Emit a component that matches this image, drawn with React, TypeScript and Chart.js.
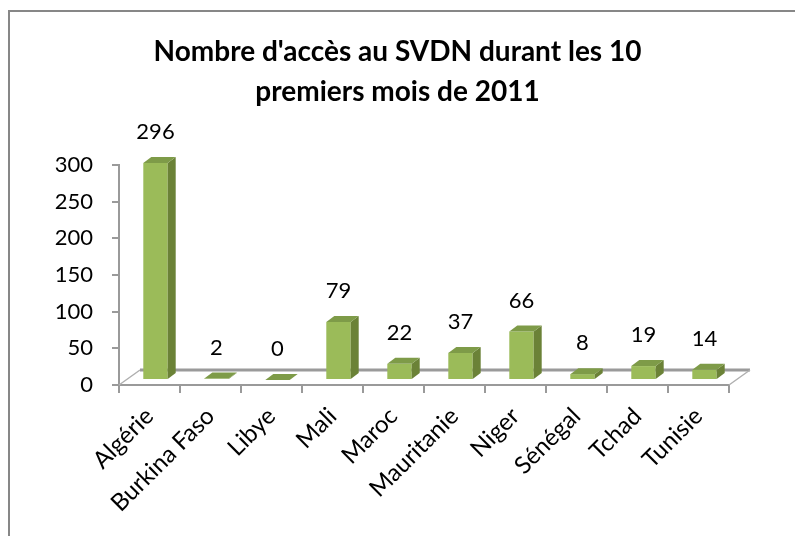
import React, { useEffect, useRef } from 'react';
import { Chart, registerables } from 'chart.js';

Chart.register(...registerables);

const categories = ['Algérie', 'Burkina Faso', 'Libye', 'Mali', 'Maroc', 'Mauritanie', 'Niger', 'Sénégal', 'Tchad', 'Tunisie'];
const values = [296, 2, 0, 79, 22, 37, 66, 8, 19, 14];
const yTickValues = [0, 50, 100, 150, 200, 250, 300];
const titleLines = ["Nombre d'accès au SVDN durant les 10", 'premiers mois de 2011'];

const FONT = 'Lato, "Noto Sans", sans-serif';
const FRONT = '#9BBB59';
const TOP = '#7E9B48';
const SIDE = '#6B8237';
const LINE = '#9A9A9A';

const SHIFT = { x: 6, y: -5 };
const DEPTH = { x: 8, y: -6 };
const FLOOR = { x: 21, y: -15 };

const bar3d = {
  id: 'bar3d',
  beforeDraw(chart: any) {
    const { ctx, width, height } = chart;
    ctx.save();
    ctx.fillStyle = '#ffffff';
    ctx.fillRect(0, 0, width, height);
    ctx.strokeStyle = '#878787';
    ctx.lineWidth = 2;
    ctx.beginPath();
    ctx.moveTo(9, height);
    ctx.lineTo(9, 11);
    ctx.lineTo(width, 11);
    ctx.stroke();
    ctx.restore();
  },
  beforeDatasetsDraw(chart: any) {
    const { ctx, chartArea } = chart;
    const { left, right, bottom } = chartArea;
    ctx.save();
    ctx.strokeStyle = LINE;
    ctx.lineWidth = 3;
    ctx.beginPath();
    ctx.moveTo(left + FLOOR.x, bottom + FLOOR.y);
    ctx.lineTo(right + FLOOR.x, bottom + FLOOR.y);
    ctx.stroke();
    ctx.lineWidth = 1.5;
    ctx.strokeStyle = '#B0B0B0';
    ctx.beginPath();
    ctx.moveTo(left, bottom);
    ctx.lineTo(left + FLOOR.x, bottom + FLOOR.y);
    ctx.moveTo(right, bottom);
    ctx.lineTo(right + FLOOR.x, bottom + FLOOR.y);
    ctx.stroke();
    ctx.restore();
    ctx.save();
    ctx.translate(SHIFT.x, SHIFT.y);
  },
  afterDatasetsDraw(chart: any) {
    const { ctx } = chart;
    const meta = chart.getDatasetMeta(0);
    meta.data.forEach((el: any) => {
      const { x, y, base, width } = el.getProps(['x', 'y', 'base', 'width'], true);
      const l = x - width / 2;
      const r = x + width / 2;
      ctx.fillStyle = SIDE;
      ctx.beginPath();
      ctx.moveTo(r, y);
      ctx.lineTo(r + DEPTH.x, y + DEPTH.y);
      ctx.lineTo(r + DEPTH.x, base + DEPTH.y);
      ctx.lineTo(r, base);
      ctx.closePath();
      ctx.fill();
      ctx.fillStyle = TOP;
      ctx.beginPath();
      ctx.moveTo(l, y);
      ctx.lineTo(l + DEPTH.x, y + DEPTH.y);
      ctx.lineTo(r + DEPTH.x, y + DEPTH.y);
      ctx.lineTo(r, y);
      ctx.closePath();
      ctx.fill();
    });
    ctx.restore();
    ctx.save();
    ctx.fillStyle = '#000000';
    ctx.font = `22px ${FONT}`;
    ctx.textAlign = 'center';
    ctx.textBaseline = 'middle';
    meta.data.forEach((el: any, i: number) => {
      const { x, y } = el.getProps(['x', 'y'], true);
      ctx.fillText(String(values[i]), x + SHIFT.x, y + SHIFT.y - 31);
    });
    ctx.restore();
  },
};

export default function App() {
  const ref = useRef<HTMLCanvasElement>(null);
  useEffect(() => {
    if (!ref.current) return;
    const chart = new Chart(ref.current, {
      type: 'bar',
      data: {
        labels: categories,
        datasets: [
          {
            data: values,
            backgroundColor: FRONT,
            borderWidth: 0,
            categoryPercentage: 1,
            barPercentage: 0.4,
            clip: false as any,
          },
        ],
      },
      options: {
        responsive: false,
        animation: false,
        layout: { padding: 0 },
        plugins: {
          legend: { display: false },
          tooltip: { enabled: false },
          title: {
            display: true,
            text: titleLines,
            color: '#000000',
            font: { family: FONT, size: 28, weight: 'bold', lineHeight: 1.43 },
            padding: { top: 32, bottom: 53 },
          },
        },
        scales: {
          x: {
            grid: { display: true, drawOnChartArea: false, color: LINE, lineWidth: 2, tickLength: 8, offset: true },
            border: { display: true, color: LINE, width: 2 },
            ticks: {
              color: '#000000',
              font: { family: FONT, size: 24 },
              minRotation: 45,
              maxRotation: 45,
              padding: 9,
              autoSkip: false,
            },
            afterFit(scale: any) {
              scale.height = 151;
            },
          },
          y: {
            min: 0,
            max: 300,
            afterBuildTicks(scale: any) {
              scale.ticks = yTickValues.map((v) => ({ value: v }));
            },
            grid: { display: true, drawOnChartArea: false, color: LINE, lineWidth: 2, tickLength: 7 },
            border: { display: true, color: LINE, width: 2 },
            ticks: {
              color: '#000000',
              font: { family: FONT, size: 22 },
              padding: 19,
            },
            afterFit(scale: any) {
              scale.width = 119;
            },
          },
          spacer: {
            type: 'linear',
            position: 'right',
            display: true,
            grid: { display: false },
            border: { display: false },
            ticks: { display: false },
            afterFit(scale: any) {
              scale.width = 66;
            },
          },
        },
      },
      plugins: [bar3d],
    });
    return () => chart.destroy();
  }, []);
  return (
    <div style={{ position: 'fixed', left: 0, top: 0, width: 795, height: 536 }}>
      <canvas ref={ref} width={795} height={536} />
    </div>
  );
}
